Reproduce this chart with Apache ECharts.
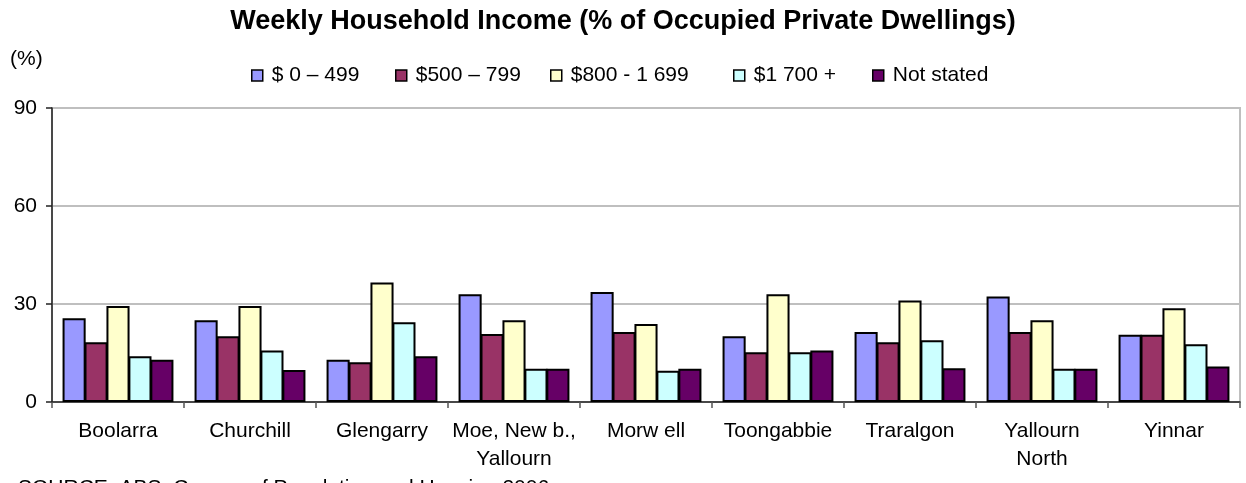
<!DOCTYPE html>
<html>
<head>
<meta charset="utf-8">
<title>Weekly Household Income</title>
<script src="https://cdn.jsdelivr.net/npm/echarts@6/dist/echarts.min.js"></script>
<style>
  html, body { margin: 0; padding: 0; background: #fff; }
  #chart { width: 1246px; height: 483px; }
</style>
</head>
<body>
<div id="chart"></div>
<script>
// values (% of occupied private dwellings)
const categories = ['Boolarra', 'Churchill', 'Glengarry', 'Moe, New b.,\nYallourn', 'Morw ell',
  'Toongabbie', 'Traralgon', 'Yallourn\nNorth', 'Yinnar']
const seriesNames = ['$ 0 – 499', '$500 – 799', '$800 - 1 699', '$1 700 +', 'Not stated']
const income0to499 = [25.6, 25.0, 12.9, 33.0, 33.7, 20.1, 21.4, 32.3, 20.6]
const income500to799 = [18.3, 20.1, 12.2, 20.8, 21.4, 15.2, 18.3, 21.4, 20.6]
const income800to1699 = [29.4, 29.4, 36.6, 25.0, 23.9, 33.0, 31.1, 25.0, 28.7]
const income1700plus = [14.0, 15.8, 24.4, 10.2, 9.6, 15.2, 18.9, 10.2, 17.7]
const notStated = [12.9, 9.8, 14.0, 10.2, 10.2, 15.8, 10.3, 10.2, 10.9]
const yMin = 0
const yMax = 90
const yStep = 30

const seriesData = [income0to499, income500to799, income800to1699, income1700plus, notStated]
const colors = ['#9999FF', '#993366', '#FFFFCC', '#CCFFFF', '#660066']
const legendLeft = [251, 395, 550, 733, 872]
const font = '"Liberation Sans", Arial, sans-serif'

const chart = echarts.init(document.getElementById('chart'))

chart.setOption({
  animation: false,
  textStyle: { fontFamily: font },
  title: {
    text: 'Weekly Household Income (% of Occupied Private Dwellings)',
    left: 'center',
    top: 8,
    padding: 0,
    textStyle: { fontSize: 27, fontWeight: 'bold', color: '#000', fontFamily: font },
  },
  legend: seriesNames.map((name, i) => ({
    data: [name],
    left: legendLeft[i],
    top: 65,
    padding: 0,
    itemWidth: 11,
    itemHeight: 11,
    itemGap: 0,
    icon: 'rect',
    itemStyle: { borderColor: '#000', borderWidth: 1.5 },
    textStyle: { fontSize: 21, color: '#000', fontFamily: font, padding: [0, 0, 0, 4] },
  })),
  graphic: [
    {
      type: 'text', left: 10, top: 49,
      style: { text: '(%)', fontSize: 21, fill: '#000', fontFamily: font },
    },
    {
      type: 'text', left: 18, top: 478,
      style: { text: 'SOURCE: ABS, Census of Population and Housing 2006', fontSize: 21, fill: '#000', fontFamily: font },
    },
  ],
  grid: {
    left: 52, right: 6, top: 108, bottom: 81,
    show: true, borderColor: '#BFBFBF', borderWidth: 2,
  },
  xAxis: {
    type: 'category',
    data: categories,
    axisLine: { lineStyle: { color: '#222', width: 1.5 } },
    axisTick: { show: true, length: 6, lineStyle: { color: '#555', width: 1.5 } },
    axisLabel: { fontSize: 21, color: '#000', margin: 15, lineHeight: 28, interval: 0 },
  },
  yAxis: {
    type: 'value',
    min: yMin,
    max: yMax,
    interval: yStep,
    axisLine: { show: true, lineStyle: { color: '#222', width: 1.5 } },
    axisTick: { show: true, length: 6, lineStyle: { color: '#222', width: 1.5 } },
    axisLabel: { fontSize: 21, color: '#000', margin: 15 },
    splitLine: { lineStyle: { color: '#BFBFBF', width: 2 } },
  },
  series: seriesNames.map((name, i) => ({
    name,
    type: 'bar',
    data: seriesData[i],
    barGap: '-5%',
    barCategoryGap: '16%',
    itemStyle: { color: colors[i], borderColor: '#000', borderWidth: 2 },
  })),
})
</script>
</body>
</html>
